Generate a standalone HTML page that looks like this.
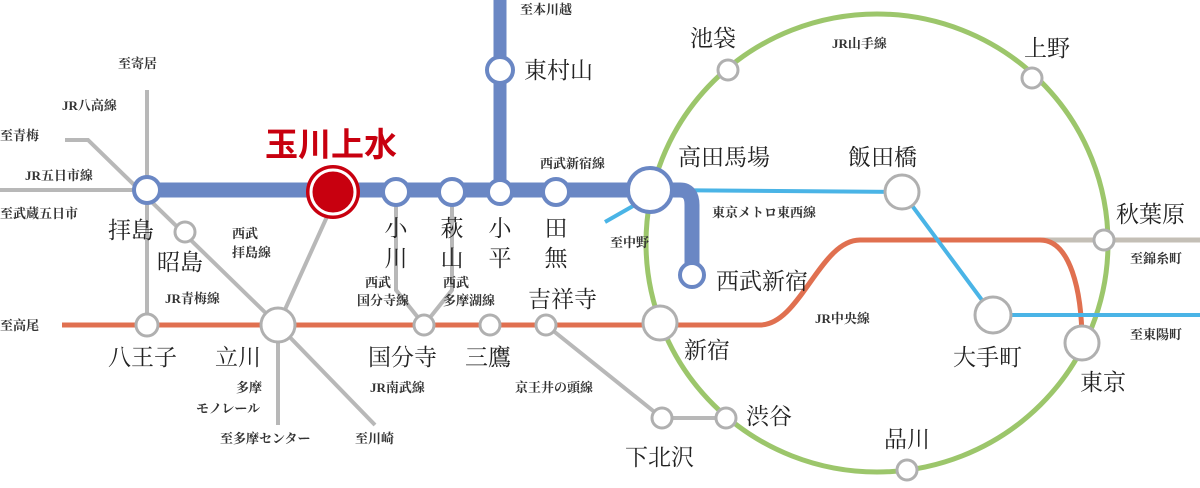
<!DOCTYPE html>
<html><head><meta charset="utf-8"><style>
html,body{margin:0;padding:0;background:#fff;}
svg{display:block}
text{font-family:"Liberation Serif","Noto Serif CJK SC",serif;fill:#222;}
.s{font-size:13px;font-weight:bold;fill:#333;}
.m{font-size:23px;}
</style></head><body>
<svg width="1200" height="488" viewBox="0 0 1200 488" xmlns="http://www.w3.org/2000/svg">
<g stroke="#b8b8b8" stroke-width="4" fill="none">
<line x1="0" y1="190" x2="147" y2="190"/>
<line x1="147" y1="90" x2="147" y2="325"/>
<polyline points="65,140 88,140 278,325"/>
<line x1="330" y1="210" x2="278" y2="325"/>
<line x1="278" y1="325" x2="278" y2="425"/>
<line x1="278" y1="325" x2="375" y2="425"/>
<polyline points="396,200 396,290 424,325"/>
<polyline points="452,200 452,290 424,325"/>
<polyline points="546,325 662,418 726,418"/>
</g>
<line x1="1040" y1="240" x2="1200" y2="240" stroke="#c4bfb6" stroke-width="5"/>
<ellipse cx="877" cy="243" rx="231" ry="229" fill="none" stroke="#9cc66b" stroke-width="5"/>
<path d="M62,325 L760,325 C800,325 820,240 860,240 L1040,240 C1070,240 1082,290 1082,343" fill="none" stroke="#e07050" stroke-width="5"/>
<g stroke="#4ab4e6" stroke-width="4" fill="none">
<polyline points="650,190 902,192 993,315 1200,315"/>
<line x1="605" y1="222" x2="640" y2="202"/>
</g>
<g stroke="#6a87c4" fill="none">
<line x1="147" y1="190" x2="650" y2="190" stroke-width="15"/>
<line x1="500" y1="0" x2="500" y2="190" stroke-width="13"/>
<path d="M650,190 L680,190 Q692,190 692,205 L692,275" stroke-width="15"/>
</g>
<g fill="#fff" stroke="#6a87c4" stroke-width="4">
<circle cx="147" cy="190" r="13"/>
<circle cx="396" cy="192" r="13"/>
<circle cx="452" cy="192" r="13"/>
<circle cx="500" cy="192" r="12"/>
<circle cx="556" cy="192" r="13"/>
<circle cx="500" cy="70" r="13"/>
<circle cx="650" cy="190" r="22"/>
<circle cx="692" cy="275" r="12"/>
</g>
<g fill="#fff" stroke="#b0b0b0" stroke-width="3">
<circle cx="185" cy="232" r="10"/>
<circle cx="147" cy="325" r="11"/>
<circle cx="278" cy="325" r="17"/>
<circle cx="424" cy="325" r="10"/>
<circle cx="490" cy="325" r="10"/>
<circle cx="546" cy="325" r="10"/>
<circle cx="660" cy="323" r="17"/>
<circle cx="662" cy="418" r="10"/>
<circle cx="726" cy="418" r="10"/>
<circle cx="728" cy="70" r="10"/>
<circle cx="1032" cy="78" r="10"/>
<circle cx="1104" cy="240" r="10"/>
<circle cx="1082" cy="343" r="17"/>
<circle cx="907" cy="470" r="10"/>
<circle cx="902" cy="192" r="17"/>
<circle cx="993" cy="315" r="18"/>
</g>
<circle cx="333" cy="192" r="27" fill="#c8000f"/>
<circle cx="333" cy="192" r="22" fill="none" stroke="#fff" stroke-width="3"/>
<text x="265" y="156" style="font-family:'Liberation Sans','Noto Sans CJK JP',sans-serif;font-weight:bold;font-size:33px;fill:#c8000f">玉川上水</text>
<text class="s" x="520" y="14">至本川越</text>
<text class="m" x="524" y="78">東村山</text>
<text class="s" x="118" y="68">至寄居</text>
<text class="s" x="62" y="110">JR八高線</text>
<text class="s" x="0" y="140">至青梅</text>
<text class="s" x="25" y="180">JR五日市線</text>
<text class="s" x="0" y="218">至武蔵五日市</text>
<text class="m" x="108" y="238">拝島</text>
<text class="m" x="157" y="270">昭島</text>
<text class="s" x="232" y="238">西武</text>
<text class="s" x="232" y="257">拝島線</text>
<g text-anchor="middle">
<text class="m" x="396" y="236">小</text><text class="m" x="396" y="266">川</text>
<text class="m" x="452" y="236">萩</text><text class="m" x="452" y="266">山</text>
<text class="m" x="500" y="236">小</text><text class="m" x="500" y="266">平</text>
<text class="m" x="556" y="236">田</text><text class="m" x="556" y="266">無</text>
</g>
<text class="s" x="540" y="168">西武新宿線</text>
<text class="s" x="610" y="247">至中野</text>
<text class="m" x="678" y="165">高田馬場</text>
<text class="m" x="848" y="165">飯田橋</text>
<text class="s" x="712" y="217">東京メトロ東西線</text>
<text class="m" x="716" y="289">西武新宿</text>
<text class="m" x="1116" y="222">秋葉原</text>
<text class="s" x="1130" y="263">至錦糸町</text>
<text class="s" x="815" y="323">JR中央線</text>
<text class="s" x="1130" y="339">至東陽町</text>
<text class="m" x="953" y="365">大手町</text>
<text class="m" x="1080" y="390">東京</text>
<text class="m" x="884" y="447">品川</text>
<text class="m" x="746" y="424">渋谷</text>
<text class="m" x="625" y="465">下北沢</text>
<text class="s" x="515" y="392">京王井の頭線</text>
<text class="m" x="684" y="358">新宿</text>
<text class="m" x="528" y="307">吉祥寺</text>
<text class="s" x="365" y="287">西武</text>
<text class="s" x="357" y="305">国分寺線</text>
<text class="s" x="443" y="287">西武</text>
<text class="s" x="443" y="305">多摩湖線</text>
<text class="m" x="368" y="365">国分寺</text>
<text class="m" x="465" y="365">三鷹</text>
<text class="s" x="370" y="392">JR南武線</text>
<text class="m" x="108" y="365">八王子</text>
<text class="m" x="215" y="365">立川</text>
<text class="s" x="165" y="303">JR青梅線</text>
<text class="s" x="0" y="330">至高尾</text>
<text class="s" x="236" y="392">多摩</text>
<text class="s" x="196" y="413">モノレール</text>
<text class="s" x="220" y="443">至多摩センター</text>
<text class="s" x="355" y="443">至川崎</text>
<text class="m" x="690" y="46">池袋</text>
<text class="m" x="1024" y="56">上野</text>
<text class="s" x="832" y="48">JR山手線</text>
</svg>
</body></html>
